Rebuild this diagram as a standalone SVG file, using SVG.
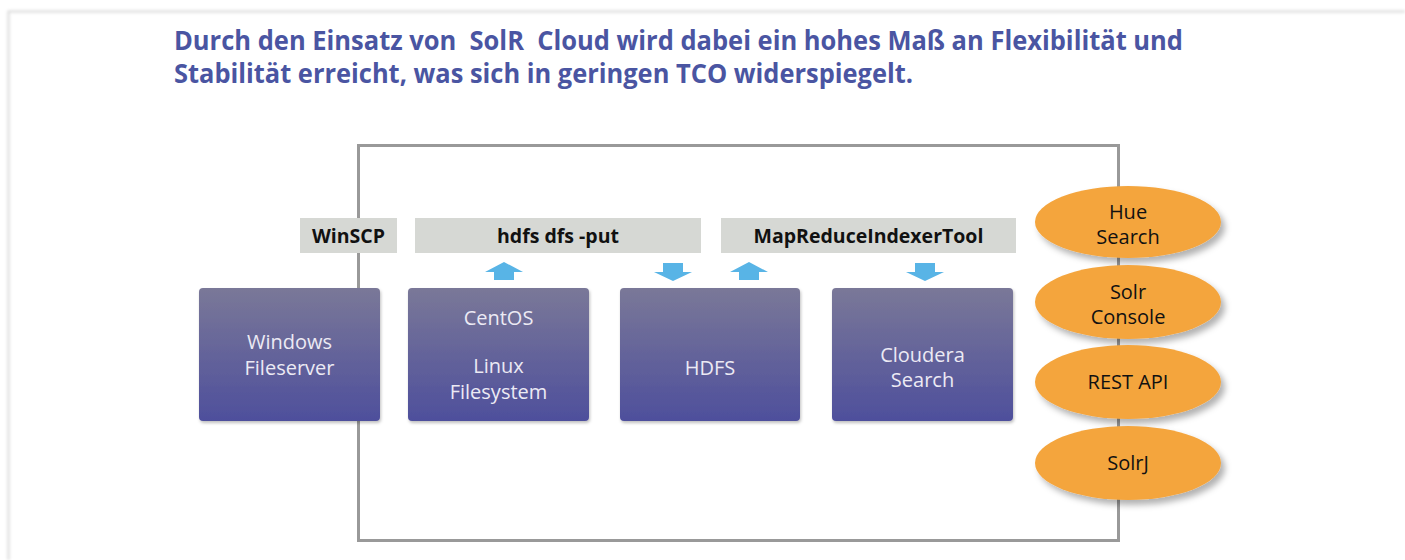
<svg xmlns="http://www.w3.org/2000/svg" width="1405" height="560" viewBox="0 0 1405 560">
<style>
.title{font-family:"Open Sans","Noto Sans",sans-serif;font-weight:bold;font-size:26px;fill:#4a55a2;white-space:pre}
.lbl{font-family:"Open Sans","Noto Sans",sans-serif;font-weight:bold;font-size:19.5px;fill:#111;text-anchor:middle}
.box{fill:url(#boxg);filter:url(#sh)}
.btxt{font-family:"Open Sans","Noto Sans",sans-serif;font-size:20px;fill:#eceaf4;text-anchor:middle}
.bar{fill:#d6d8d4}
.ell{fill:#f4a53e;filter:url(#esh)}
.etxt{font-family:"Open Sans","Noto Sans",sans-serif;font-size:20px;fill:#111;text-anchor:middle}
.arr{fill:#58b4e6}
</style>
<defs>
<linearGradient id="boxg" x1="0" y1="0" x2="0" y2="1">
<stop offset="0" stop-color="#7a7898"/>
<stop offset="1" stop-color="#4e4f9c"/>
</linearGradient>
<filter id="sh" x="-10%" y="-10%" width="125%" height="125%">
<feDropShadow dx="1" dy="2" stdDeviation="1.5" flood-color="#000" flood-opacity="0.25"/>
</filter>
<filter id="esh" x="-20%" y="-20%" width="150%" height="160%">
<feDropShadow dx="4" dy="5" stdDeviation="3" flood-color="#000" flood-opacity="0.3"/>
</filter>
<filter id="pg" x="-5%" y="-5%" width="110%" height="110%">
<feGaussianBlur stdDeviation="1.5"/>
</filter>
</defs>
<rect width="1405" height="560" fill="#fff"/>
<path d="M8.5 560 V11.5 H1405" fill="none" stroke="#d8d8d8" stroke-width="2" filter="url(#pg)"/>

<g id="title">
<text class="title" x="174" y="50" textLength="1009" lengthAdjust="spacingAndGlyphs">Durch den Einsatz von  SolR  Cloud wird dabei ein hohes Maß an Flexibilität und</text>
<text class="title" x="174" y="83" textLength="739" lengthAdjust="spacingAndGlyphs">Stabilität erreicht, was sich in geringen TCO widerspiegelt.</text>
</g>

<g id="connectors">
<rect x="358.5" y="145.5" width="760" height="395" fill="none" stroke="#999" stroke-width="3"/>
<path class="arr" d="M485 272 L504 262 L523 272 L514 272 L514 280 L494 280 L494 272 Z"/>
<path class="arr" d="M663 263 L683 263 L683 272 L692 272 L673 281 L654 272 L663 272 Z"/>
<path class="arr" d="M730 272 L749 262 L768 272 L759 272 L759 280 L739 280 L739 272 Z"/>
<path class="arr" d="M915 263 L935 263 L935 272 L944 272 L925 281 L906 272 L915 272 Z"/>
</g>

<g id="winscp">
<rect class="bar" x="300" y="218" width="97" height="35"/>
<text class="lbl" x="348.5" y="243">WinSCP</text>
</g>
<g id="hdfs-put">
<rect class="bar" x="415" y="218" width="286" height="35"/>
<text class="lbl" x="558" y="243">hdfs dfs -put</text>
</g>
<g id="mapreduce">
<rect class="bar" x="721" y="218" width="295" height="35"/>
<text class="lbl" x="868.5" y="243">MapReduceIndexerTool</text>
</g>

<g id="windows">
<rect class="box" x="199" y="288" width="181" height="133" rx="4"/>
<text class="btxt" x="289.5" y="349">Windows</text>
<text class="btxt" x="289.5" y="375">Fileserver</text>
</g>
<g id="centos">
<rect class="box" x="408" y="288" width="181" height="133" rx="4"/>
<text class="btxt" x="498.5" y="325">CentOS</text>
<text class="btxt" x="498.5" y="373">Linux</text>
<text class="btxt" x="498.5" y="399">Filesystem</text>
</g>
<g id="hdfs">
<rect class="box" x="620" y="288" width="180" height="133" rx="4"/>
<text class="btxt" x="710" y="375">HDFS</text>
</g>
<g id="cloudera">
<rect class="box" x="832" y="288" width="181" height="133" rx="4"/>
<text class="btxt" x="922.5" y="362">Cloudera</text>
<text class="btxt" x="922.5" y="387">Search</text>
</g>

<g id="hue">
<ellipse class="ell" cx="1128" cy="222" rx="93" ry="36"/>
<text class="etxt" x="1128" y="219">Hue</text>
<text class="etxt" x="1128" y="244">Search</text>
</g>
<g id="solr-console">
<ellipse class="ell" cx="1128" cy="302" rx="93" ry="37"/>
<text class="etxt" x="1128" y="299">Solr</text>
<text class="etxt" x="1128" y="324">Console</text>
</g>
<g id="rest-api">
<ellipse class="ell" cx="1128" cy="382" rx="93" ry="37"/>
<text class="etxt" x="1128" y="389">REST API</text>
</g>
<g id="solrj">
<ellipse class="ell" cx="1128" cy="463" rx="93" ry="37"/>
<text class="etxt" x="1128" y="470">SolrJ</text>
</g>
</svg>
